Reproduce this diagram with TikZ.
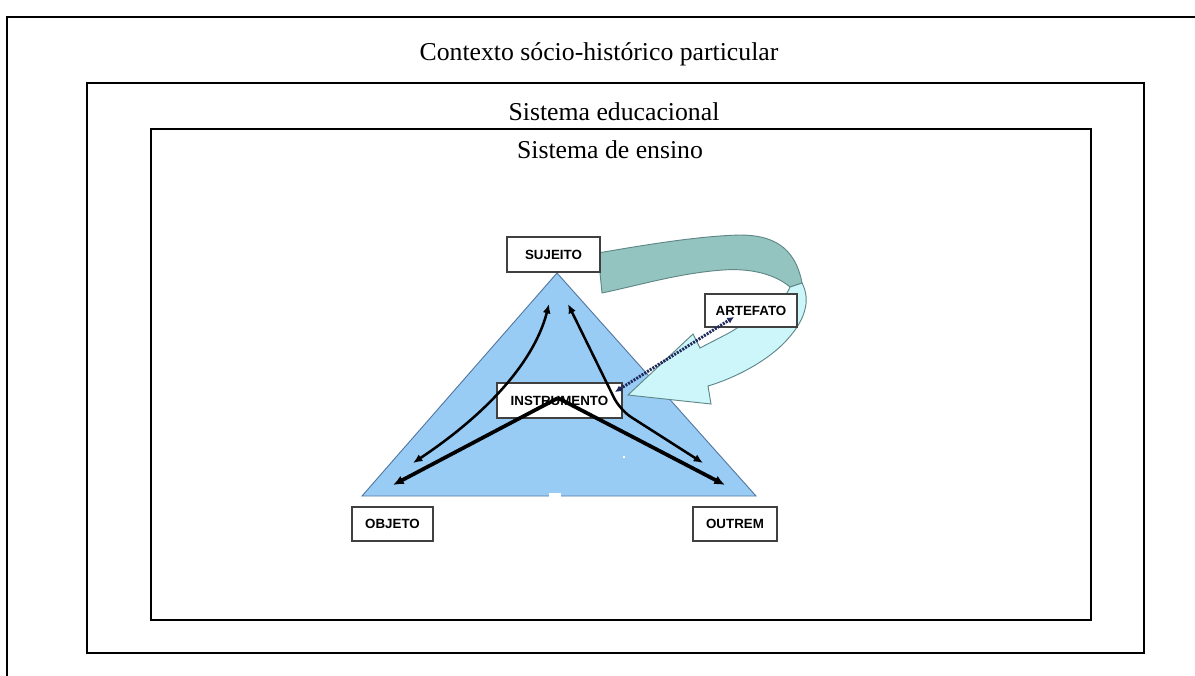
\documentclass[tikz,border=0pt]{standalone}
\usepackage{fontspec}
\setmainfont{Liberation Serif}
\newfontfamily\labfont{Liberation Sans}
\usetikzlibrary{arrows.meta}
\definecolor{triblue}{RGB}{153,204,245}
\definecolor{triedge}{RGB}{85,120,160}
\definecolor{ribteal}{RGB}{148,196,192}
\definecolor{ribcyan}{RGB}{204,246,250}
\definecolor{ribedge}{RGB}{95,135,135}
\definecolor{dotnavy}{RGB}{30,40,90}
\tikzset{
  frameline/.style={draw=black, line width=1.1pt},
  titletext/.style={font=\fontsize{19.3pt}{23pt}\selectfont, inner sep=0pt, anchor=base},
  labbox/.style={draw=black!75, line width=0.9pt, fill=white, inner sep=0pt,
    font=\labfont\fontsize{10pt}{12pt}\selectfont\bfseries},
  thinarrow/.style={draw=black, line width=1.9pt, {Latex[length=7pt,width=6pt]}-{Latex[length=7pt,width=6pt]}},
  thickarrow/.style={draw=black, line width=2.8pt, -{Latex[length=8pt,width=7pt]}},
  dotarrow/.style={draw=dotnavy, line width=2.2pt, dash pattern=on 1.5pt off 0.9pt,
    {Latex[length=5pt,width=5pt]}-{Latex[length=5pt,width=5pt]}}
}
\begin{document}
\begin{tikzpicture}[x=0.75pt,y=-0.75pt]
\useasboundingbox (0,0) rectangle (1195,675);
% frames
\draw[black, line width=1.8pt] (1196,17) -- (7,17) -- (7,676);
\draw[frameline] (87,83) rectangle (1144,653);
\draw[frameline] (151,129) rectangle (1091,620);
\node[titletext] (contexto) at (599,60) {Contexto sócio-histórico particular};
\node[titletext] (educ) at (614,120) {Sistema educacional};
\node[titletext] (ensino) at (610,158) {Sistema de ensino};
% triangle
\coordinate (apexT) at (557,273);
\coordinate (leftT) at (362,496);
\coordinate (rightT) at (756,496);
\fill[triblue, draw=triedge, line width=0.7pt] (apexT) -- (leftT) -- (rightT) -- cycle;
\fill[white] (549,493) rectangle (561,498);
\fill[white] (623,456) rectangle (625,458);
% ribbon arrow
\fill[ribteal, draw=ribedge, line width=0.7pt] (598,253) .. controls (650,244) and (700,236) .. (740,235)
  .. controls (770,235) and (795,245) .. (802,283) -- (790,287)
  .. controls (775,274) and (750,268) .. (723,270)
  .. controls (680,273) and (640,285) .. (602,293) -- cycle;
\fill[ribcyan, draw=ribedge, line width=0.7pt] (790,287) -- (802,283)
  .. controls (811,300) and (806,321) .. (783,344)
  .. controls (765,362) and (735,378) .. (708,386)
  -- (711,404) -- (628,395) -- (693,334) -- (700,348)
  .. controls (715,340) and (730,333) .. (737,328)
  .. controls (765,318) and (785,300) .. (790,287) -- cycle;
% boxes
\node[labbox, minimum width=69.75pt, minimum height=26.25pt] (sujeito) at (553.5,254.5) {SUJEITO};
\node[labbox, minimum width=93.75pt, minimum height=26.25pt] (instr) at (559.5,400.5) {INSTRUMENTO};
\node[labbox, minimum width=69pt, minimum height=24.75pt] (artefato) at (751,310.5) {ARTEFATO};
\node[labbox, minimum width=60.75pt, minimum height=25.5pt] (objeto) at (392.5,524) {OBJETO};
\node[labbox, minimum width=63pt, minimum height=25.5pt] (outrem) at (735,524) {OUTREM};
% arrows
\coordinate (sl) at (549,304);
\coordinate (sr) at (568,304);
\coordinate (ol) at (413,463);
\coordinate (or) at (703,463);
\coordinate (ot) at (393,485);
\coordinate (rt) at (725,485);
\coordinate (ia) at (558,398);
\coordinate (id) at (615,392);
\coordinate (ad) at (734,317);
\draw[thinarrow] (sl) .. controls (535,359) and (491,411) .. (ol);
\draw[thinarrow, rounded corners=10pt] (sr) -- (620,410) -- (or);
\draw[thickarrow] (ia) -- (ot);
\draw[thickarrow] (ia) -- (rt);
\draw[dotarrow] (id) -- (ad);
\end{tikzpicture}
\end{document}
